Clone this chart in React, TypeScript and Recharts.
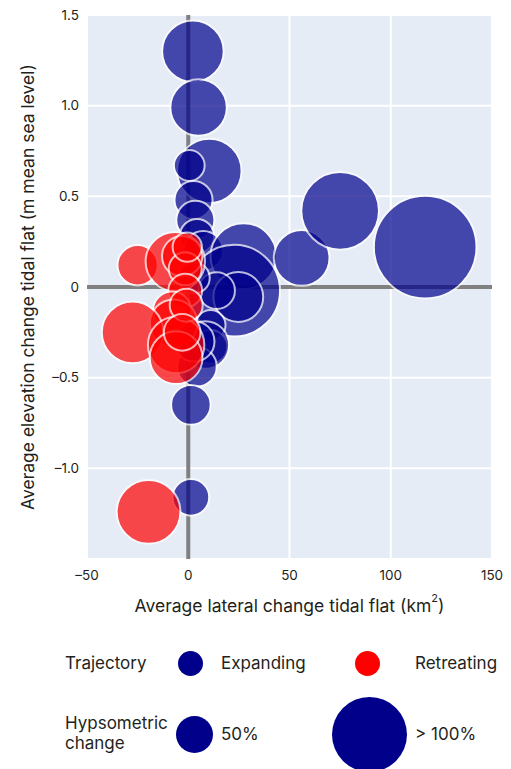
import React from 'react';
import { ScatterChart, Scatter, XAxis, YAxis, ZAxis, CartesianGrid, ReferenceLine } from 'recharts';

// Expanding tidal flats: lateral change (km2), elevation change (m MSL), hypsometric change (%)
const expandingLateral = [2.3, 5.1, 10.4, 0.5, 2.6, 3.5, 4.3, 7.4, 27.3, 56, 75, 117, 22.7, 24.7, 14, 3, 11, 11, 8.4, 4.3, 3, 1.3, 1.3];
const expandingElevation = [1.3, 0.99, 0.64, 0.67, 0.48, 0.37, 0.28, 0.2, 0.17, 0.16, 0.42, 0.22, -0.02, -0.055, -0.02, 0.05, -0.21, -0.33, -0.32, -0.44, -0.3, -0.65, -1.16];
const expandingHyps = [84, 77, 88, 42, 52, 52, 47, 54, 90, 76, 106, 140, 125, 68, 50, 42, 41, 46, 65, 54, 55, 54, 50];

// Retreating tidal flats
const retreatingLateral = [-25, -6.4, -3, -1.5, -0.5, -1.5, -8, -7.2, -27.5, -6, -6, -1, -3, -19.6];
const retreatingElevation = [0.12, 0.14, 0.17, 0.1, 0.22, -0.02, -0.13, -0.2, -0.25, -0.32, -0.39, -0.1, -0.25, -1.24];
const retreatingHyps = [55, 81, 55, 45, 40, 46, 52, 65, 84, 77, 72, 45, 50, 87];

const xTicks = [-50, 0, 50, 100, 150];
const yTicks = [-1, -0.5, 0, 0.5, 1, 1.5];

const toRows = (xs: number[], ys: number[], zs: number[]) => xs.map((x, i) => ({ x, y: ys[i], z: zs[i] }));
const expanding = toRows(expandingLateral, expandingElevation, expandingHyps);
const retreating = toRows(retreatingLateral, retreatingElevation, retreatingHyps);

const BLUE = '#00008B';
const RED = '#FF0000';
const FONT = 'Inter, "Noto Sans", sans-serif';
const TEXT = '#231f20';

// bubble diameter grows linearly with hypsometric change, so scale radius then return area
const makeRadiusScale = (dom: number[] = [0, 1], rng: number[] = [0, 1]): any => {
  const scale: any = (v: number) => {
    const r = rng[0] + ((v - dom[0]) / (dom[1] - dom[0])) * (rng[1] - rng[0]);
    return Math.PI * r * r;
  };
  scale.domain = (d?: number[]) => (d ? makeRadiusScale(d, rng) : dom);
  scale.range = (r?: number[]) => (r ? makeRadiusScale(dom, r) : rng);
  scale.copy = () => makeRadiusScale(dom, rng);
  scale.ticks = () => [];
  return scale;
};

const minus = (s: string) => s.replace('-', '\u2013');
const fmtX = (v: number) => minus(String(v));
const fmtY = (v: number) => (v === 0 ? '0' : minus(v.toFixed(1)));

const Bubble = (fill: string) => (p: any) => {
  const r = Math.sqrt(Math.max(p.size || 0, 0) / Math.PI);
  return <circle cx={p.cx} cy={p.cy} r={r} fill={fill} stroke="#ffffff" strokeWidth={2} opacity={0.7} />;
};

const YTitle = (props: any) => {
  const vb = props.viewBox || { x: 0, y: 15, width: 87, height: 544 };
  const cy = vb.y + vb.height / 2;
  return (
    <text x={27} y={cy} transform={`rotate(-90, 27, ${cy})`} textAnchor="middle" dominantBaseline="central"
      fontSize={17.5} fill={TEXT} fontFamily={FONT}>
      Average elevation change tidal flat (m mean sea level)
    </text>
  );
};

const XTitle = (props: any) => {
  const vb = props.viewBox || { x: 87, y: 559, width: 405, height: 61 };
  const cx = vb.x + vb.width / 2;
  return (
    <text x={cx} y={605} textAnchor="middle" dominantBaseline="central" fontSize={17.5} fill={TEXT} fontFamily={FONT}>
      Average lateral change tidal flat (km
      <tspan fontSize={11} dy={-7}>2</tspan>
      <tspan dy={7}>)</tspan>
    </text>
  );
};

const legendText: React.CSSProperties = { position: 'absolute', fontSize: 17, color: TEXT, fontFamily: FONT, lineHeight: '20px' };

const dot = (cx: number, cy: number, r: number, color: string): React.CSSProperties => ({
  position: 'absolute', left: cx - r, top: cy - r, width: r * 2, height: r * 2, borderRadius: '50%', background: color,
});

export default function App() {
  return (
    <div style={{ position: 'absolute', left: 0, top: 0, width: 511, height: 769, background: '#fff', overflow: 'hidden' }}>
      <ScatterChart width={511} height={620} margin={{ top: 15, right: 19, bottom: 0, left: 0 }}>
        <CartesianGrid fill="#E5ECF6" stroke="#ffffff" strokeWidth={2} />
        <XAxis
          type="number" dataKey="x" domain={[-50, 150]} ticks={xTicks} tickFormatter={fmtX}
          height={61} tickSize={0} tickMargin={11} axisLine={false} tickLine={false}
          tick={{ fontSize: 13.5, fill: TEXT, fontFamily: FONT }} label={<XTitle />}
        />
        <YAxis
          type="number" dataKey="y" domain={[-1.5, 1.5]} ticks={yTicks} tickFormatter={fmtY}
          width={87} tickSize={0} tickMargin={8} axisLine={false} tickLine={false}
          tick={{ fontSize: 13.5, fill: TEXT, fontFamily: FONT }} label={<YTitle />}
        />
        <ZAxis type="number" dataKey="z" domain={[0, 150]} range={[0, 55]} scale={makeRadiusScale()} />
        <Scatter name="Expanding" data={expanding} shape={Bubble(BLUE)} isAnimationActive={false} />
        <Scatter name="Retreating" data={retreating} shape={Bubble(RED)} isAnimationActive={false} />
        <ReferenceLine x={0} stroke="#808080" strokeWidth={4} />
        <ReferenceLine y={0} stroke="#808080" strokeWidth={4} />
      </ScatterChart>

      <div style={{ ...legendText, left: 65, top: 653 }}>Trajectory</div>
      <div style={dot(190, 663, 12.5, BLUE)} />
      <div style={{ ...legendText, left: 221, top: 653 }}>Expanding</div>
      <div style={dot(367, 663, 12.5, RED)} />
      <div style={{ ...legendText, left: 415, top: 653 }}>Retreating</div>

      <div style={{ ...legendText, left: 65, top: 713 }}>Hypsometric<br />change</div>
      <div style={dot(194, 734, 18.5, BLUE)} />
      <div style={{ ...legendText, left: 221, top: 724 }}>50%</div>
      <div style={dot(369, 734, 37.5, BLUE)} />
      <div style={{ ...legendText, left: 415, top: 724 }}>&gt; 100%</div>
    </div>
  );
}
